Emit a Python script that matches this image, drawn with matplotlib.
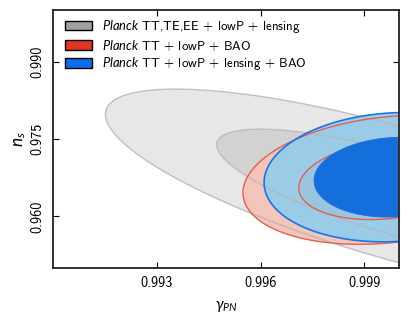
import numpy as np
import matplotlib
matplotlib.use('Agg')
import matplotlib.pyplot as plt
from matplotlib.patches import Patch

plt.rcParams['font.family'] = ['cmss10', 'DejaVu Sans']
plt.rcParams['mathtext.fontset'] = 'custom'
plt.rcParams['mathtext.rm'] = 'cmss10'
plt.rcParams['mathtext.it'] = 'Lato:italic'
plt.rcParams['axes.unicode_minus'] = False

# gaussian summaries of the three posteriors
labels = [r'$\mathit{Planck}$ TT,TE,EE + lowP + lensing',
          r'$\mathit{Planck}$ TT + lowP + BAO',
          r'$\mathit{Planck}$ TT + lowP + lensing + BAO']
mean_gamma = [0.99991, 0.9997, 0.99987]
mean_ns = [0.9644, 0.9671, 0.9676]
sigma_gamma = [0.00343, 0.00172, 0.00154]
sigma_ns = [0.00828, 0.00511, 0.00512]
rho = [-0.758, 0.202, 0.084]
conf_levels = [0.68, 0.95]

xticks = [0.993, 0.996, 0.999]
yticks = [0.960, 0.975, 0.990]

fill_inner = ['#d2d2d2', '#ea9584', '#146fdd']
fill_outer = ['#e7e7e7', '#f4c5b8', '#8ccef0']
line_cols = ['#b4b4b4', '#e2604f', '#1a73ea']
legend_cols = ['#a0a0a0', '#e03424', '#0b6fed']

fig = plt.figure(figsize=(4.09, 3.23), dpi=100)
ax = fig.add_axes([0.1296, 0.1703, 0.8460, 0.7987])

g = np.linspace(0.985, 1.005, 600)
n = np.linspace(0.940, 1.000, 600)
G, N = np.meshgrid(g, n)
chi_levels = [-2 * np.log(1 - p) for p in conf_levels]


def chi2(i):
	dg = (G - mean_gamma[i]) / sigma_gamma[i]
	dn = (N - mean_ns[i]) / sigma_ns[i]
	r = rho[i]
	return (dg**2 - 2 * r * dg * dn + dn**2) / (1 - r**2)


C = [chi2(i) for i in range(3)]

# gray
ax.contourf(G, N, C[0], levels=[0] + chi_levels, colors=[fill_inner[0], fill_outer[0]],
            antialiased=True, zorder=1)
# red
ax.contourf(G, N, C[1], levels=[0] + chi_levels, colors=[fill_inner[1], fill_outer[1]],
            antialiased=True, zorder=2)
# blue outer band, slightly transparent
ax.contourf(G, N, C[2], levels=chi_levels, colors=[fill_outer[2]], alpha=0.85,
            antialiased=True, zorder=3)
ax.contour(G, N, C[0], levels=chi_levels, colors=line_cols[0], linewidths=1.0, alpha=0.8, zorder=4)
ax.contour(G, N, C[1], levels=chi_levels, colors=line_cols[1], linewidths=1.0, zorder=5)
ax.contour(G, N, C[2], levels=chi_levels[1:], colors=line_cols[2], linewidths=1.2, zorder=6)
ax.contourf(G, N, C[2], levels=[0, chi_levels[0]], colors=[fill_inner[2]],
            antialiased=True, zorder=7)
ax.contour(G, N, C[2], levels=chi_levels[:1], colors=fill_inner[2], linewidths=0.6, zorder=7)

ax.set_xlim(0.990, 1.000)
ax.set_ylim(0.950, 1.000)
ax.set_xticks(xticks)
ax.set_xticklabels(['%.3f' % v for v in xticks])
ax.set_yticks(yticks)
ax.set_yticklabels(['%.3f' % v for v in yticks], rotation=90, va='center')
ax.tick_params(direction='in', top=True, right=True, length=4, width=0.8, labelsize=10.2, pad=6)
for sp in ax.spines.values():
	sp.set_linewidth(1.3)
	sp.set_color('#222222')
	sp.set_zorder(10)

ax.set_xlabel(r'$\gamma_{PN}$', fontsize=11, labelpad=6)
ax.set_ylabel(r'$n_s$', fontsize=12.5, labelpad=2)

handles = [Patch(facecolor=c, edgecolor='black', linewidth=1.0) for c in legend_cols]
ax.legend(handles, labels, loc='upper left', frameon=False, fontsize=9.3,
          handlelength=2.1, handleheight=0.75, handletextpad=0.8, labelspacing=0.22,
          borderaxespad=0.2, bbox_to_anchor=(0.012, 1.0))

fig.savefig('out.png', dpi=100)
